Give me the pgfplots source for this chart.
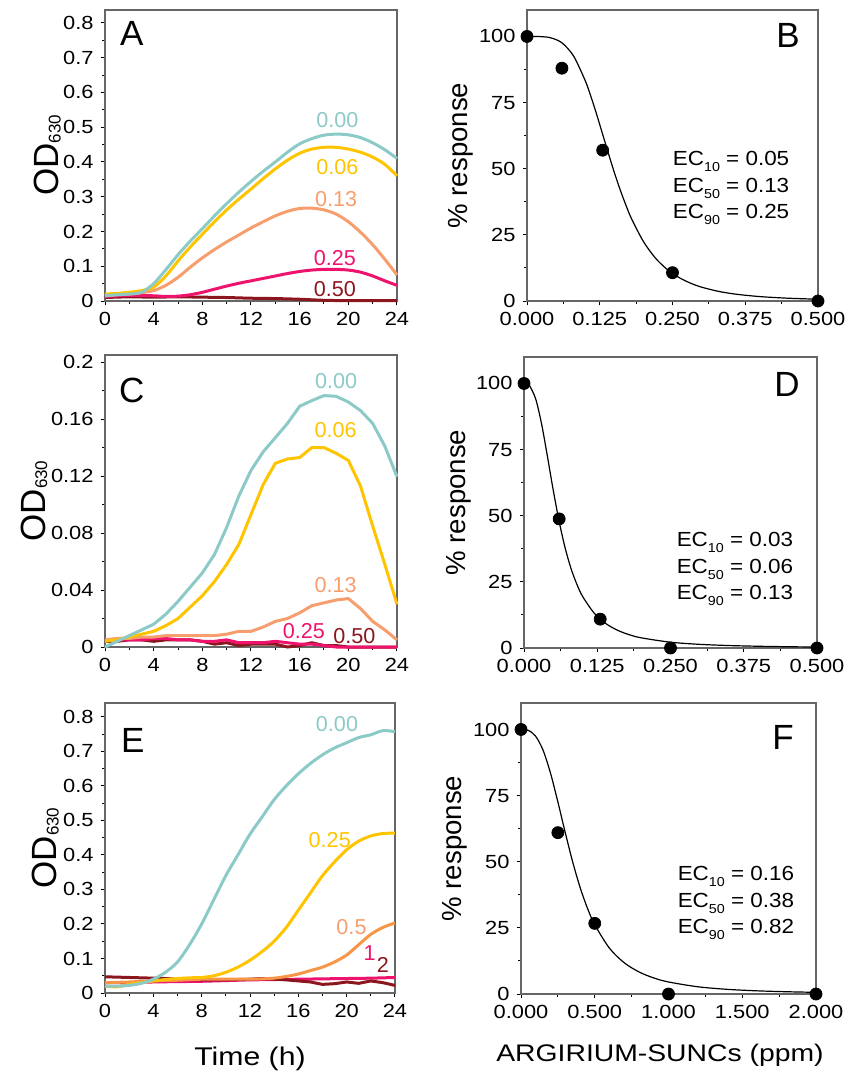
\documentclass[border=0pt]{standalone}
\usepackage{fontspec}
\usepackage{graphicx}
\setmainfont{Liberation Sans}
\newfontfamily\plainfont{Liberation Sans}
\usepackage{pgfplots}
\pgfplotsset{compat=1.18}
\definecolor{ccyan}{RGB}{140,202,200}
\definecolor{cyel}{RGB}{255,196,0}
\definecolor{corg}{RGB}{247,158,110}
\definecolor{corgE}{RGB}{247,150,70}
\definecolor{cpink}{RGB}{238,20,110}
\definecolor{cdred}{RGB}{140,22,30}
\newcommand{\sx}[1]{\scalebox{1.15}[1]{#1}}
\newcommand{\lbl}{\plainfont\fontsize{10.8}{11}\selectfont}
\newcommand{\panel}{\plainfont\fontsize{17.5}{18}\selectfont}
\newcommand{\ODlab}{\plainfont\fontsize{17.5}{18}\selectfont OD\raisebox{-1pt}{\fontsize{8.5}{9}\selectfont 630}}
\newcommand{\resp}{\plainfont\fontsize{13.8}{14}\selectfont \% response}
\newcommand{\ecs}[1]{\raisebox{-0.55ex}{\fontsize{6.5}{7}\selectfont #1}}
\newcommand{\ecblock}[3]{\scalebox{1.1}[1]{\begin{tabular}{@{}l@{}}EC\ecs{10} = #1\\EC\ecs{50} = #2\\EC\ecs{90} = #3\end{tabular}}}
\tikzset{ectext/.style={anchor=west, inner sep=0pt, font=\fontsize{10.2}{13.25}\selectfont}}
\pgfplotsset{
  myaxis/.style={
    scale only axis, clip=false,
    axis line style={draw=black!60, line width=0.6pt},
    tick align=outside, tick pos=left,
    major tick length=2.2pt, minor tick length=1.3pt,
    every tick/.style={black, line width=0.5pt},
    minor x tick num=1, minor y tick num=1,
    /pgf/number format/assume math mode=true,
    tick label style={font=\fontsize{9.5}{12}\selectfont, text=black},
  },
  timeaxis/.style={
    xmin=0, xmax=24, xtick={0,4,8,12,16,20,24},
    xticklabels={\sx{0},\sx{4},\sx{8},\sx{12},\sx{16},\sx{20},\sx{24}},
  },
  odaxis/.style={
    ytick={0,0.1,0.2,0.3,0.4,0.5,0.6,0.7,0.8},
    yticklabels={\sx{0},\sx{0.1},\sx{0.2},\sx{0.3},\sx{0.4},\sx{0.5},\sx{0.6},\sx{0.7},\sx{0.8}},
  },
  paxis/.style={
    ymin=0, ymax=110, ytick={0,25,50,75,100},
    yticklabels={\sx{0},\sx{25},\sx{50},\sx{75},\sx{100}},
  },
  odline/.style={line width=1.5pt, no marks},
  fitline/.style={black, line width=0.6pt, no marks, smooth},
  dots/.style={only marks, mark=*, mark size=3pt, black},
}
\begin{document}
\begin{tikzpicture}[x=1pt,y=1pt]
\path[use as bounding box] (0,0) rectangle (428,-540.5);

% ---------------- A ----------------
\begin{axis}[myaxis, timeaxis, odaxis, at={(52.5pt,-150.5pt)}, anchor=south west,
  width=146pt, height=145.5pt, ymin=0, ymax=0.837,
  ylabel={\ODlab}, ylabel style={at={(axis description cs:-0.197,0.5)}, anchor=center}]
\addplot[odline, cdred, smooth] coordinates {(0,0.010)(2,0.012)(4,0.011)(6,0.012)(8,0.011)(10,0.010)(12,0.008)(14,0.007)(16,0.005)(18,0.002)(20,0.001)(22,0.001)(24,0.001)};
\addplot[odline, cpink, smooth] coordinates {(0,0.012)(1,0.015)(2,0.016)(3,0.016)(4,0.015)(5,0.013)(6,0.014)(7,0.018)(8,0.025)(9,0.034)(10,0.043)(11,0.051)(12,0.058)(13,0.065)(14,0.072)(15,0.079)(16,0.085)(17,0.089)(18,0.091)(19,0.091)(20,0.089)(21,0.083)(22,0.072)(23,0.058)(24,0.045)};
\addplot[odline, corg, smooth] coordinates {(0,0.015)(1,0.018)(2,0.020)(3,0.024)(4,0.030)(5,0.045)(6,0.068)(7,0.097)(8,0.124)(9,0.148)(10,0.170)(11,0.190)(12,0.210)(13,0.228)(14,0.245)(15,0.258)(16,0.266)(17,0.267)(18,0.262)(19,0.250)(20,0.228)(21,0.198)(22,0.162)(23,0.120)(24,0.075)};
\addplot[odline, cyel, smooth] coordinates {(0,0.020)(1,0.022)(2,0.025)(3,0.030)(4,0.040)(5,0.072)(6,0.115)(7,0.155)(8,0.192)(9,0.228)(10,0.262)(11,0.293)(12,0.322)(13,0.352)(14,0.380)(15,0.405)(16,0.425)(17,0.437)(18,0.442)(19,0.442)(20,0.437)(21,0.428)(22,0.414)(23,0.393)(24,0.360)};
\addplot[odline, ccyan, smooth] coordinates {(0,0.015)(1,0.018)(2,0.020)(3,0.025)(4,0.050)(5,0.090)(6,0.133)(7,0.172)(8,0.208)(9,0.245)(10,0.280)(11,0.313)(12,0.344)(13,0.373)(14,0.400)(15,0.428)(16,0.452)(17,0.467)(18,0.477)(19,0.480)(20,0.478)(21,0.470)(22,0.455)(23,0.435)(24,0.410)};
\node[text=ccyan, font=\lbl] at (axis cs:19.1,0.520) {0.00};
\node[text=cyel, font=\lbl] at (axis cs:19.1,0.384) {0.06};
\node[text=corg, font=\lbl] at (axis cs:19.0,0.293) {0.13};
\node[text=cpink, font=\lbl] at (axis cs:18.9,0.123) {0.25};
\node[text=cdred, font=\lbl] at (axis cs:18.9,0.034) {0.50};
\node[font=\panel] at (rel axis cs:0.092,0.921) {A};
\end{axis}

% ---------------- B ----------------
\begin{axis}[myaxis, paxis, at={(263.5pt,-150.5pt)}, anchor=south west,
  width=145.5pt, height=145.5pt,
  xmin=0, xmax=0.5,
  xtick={0,0.125,0.25,0.375,0.5},
  xticklabels={\sx{0.000},\sx{0.125},\sx{0.250},\sx{0.375},\sx{0.500}},
  ylabel={\resp}, ylabel style={at={(axis description cs:-0.227,0.5)}, anchor=center}]
\addplot[fitline] coordinates {(0,100)(0.02,99.97)(0.04,99.53)(0.06,97.6)(0.08,92.6)(0.10,83.3)(0.11,77.2)(0.12,70.3)(0.13,63.0)(0.14,55.7)(0.15,48.6)(0.16,42.1)(0.17,36.2)(0.18,30.9)(0.20,22.5)(0.22,16.4)(0.24,12.1)(0.26,9.03)(0.28,6.83)(0.30,5.23)(0.33,3.60)(0.36,2.55)(0.40,1.67)(0.45,1.04)(0.50,0.68)};
\addplot[dots] coordinates {(0,100)(0.06,88)(0.13,57)(0.25,10.7)(0.5,0)};
\node[font=\panel] at (rel axis cs:0.897,0.914) {B};
\node[ectext] at (rel axis cs:0.50,0.392) {\ecblock{0.05}{0.13}{0.25}};
\end{axis}

% ---------------- C ----------------
\begin{axis}[myaxis, timeaxis, at={(52.5pt,-323.5pt)}, anchor=south west,
  width=146pt, height=146pt, ymin=0, ymax=0.205,
  ytick={0,0.04,0.08,0.12,0.16,0.2},
  yticklabels={\sx{0},\sx{0.04},\sx{0.08},\sx{0.12},\sx{0.16},\sx{0.2}},
  ylabel={\ODlab}, ylabel style={at={(axis description cs:-0.243,0.5)}, anchor=center}]
\addplot[odline, cdred] coordinates {(0,0.004)(1,0.004)(2,0.005)(3,0.005)(4,0.004)(5,0.005)(6,0.005)(7,0.005)(8,0.004)(9,0.002)(10,0.003)(11,0.001)(12,0.002)(13,0.002)(14,0.002)(15,0.000)(16,0.001)(17,0.003)(18,0.001)(19,0.001)(20,0.000)(21,0.000)(22,0.000)(23,0.000)(24,0.000)};
\addplot[odline, cpink] coordinates {(0,0.005)(1,0.005)(2,0.005)(3,0.005)(4,0.006)(5,0.006)(6,0.005)(7,0.005)(8,0.004)(9,0.004)(10,0.005)(11,0.003)(12,0.003)(13,0.003)(14,0.004)(15,0.003)(16,0.002)(17,0.002)(18,0.001)(19,0.000)(20,0.000)(21,0.000)(22,0.000)(23,0.000)(24,0.000)};
\addplot[odline, corg] coordinates {(0,0.005)(1,0.006)(2,0.006)(3,0.007)(4,0.007)(5,0.008)(6,0.008)(7,0.008)(8,0.008)(9,0.008)(10,0.009)(11,0.011)(12,0.011)(13,0.014)(14,0.018)(15,0.020)(16,0.024)(17,0.029)(18,0.031)(19,0.033)(20,0.034)(21,0.027)(22,0.018)(23,0.012)(24,0.005)};
\addplot[odline, cyel] coordinates {(0,0.004)(1,0.005)(2,0.007)(3,0.009)(4,0.011)(5,0.015)(6,0.020)(7,0.028)(8,0.036)(9,0.046)(10,0.058)(11,0.072)(12,0.093)(13,0.114)(14,0.129)(15,0.132)(16,0.133)(17,0.140)(18,0.140)(19,0.136)(20,0.131)(21,0.113)(22,0.085)(23,0.058)(24,0.030)};
\addplot[odline, ccyan] coordinates {(0,0.000)(1,0.004)(2,0.008)(3,0.012)(4,0.016)(5,0.023)(6,0.032)(7,0.042)(8,0.052)(9,0.065)(10,0.084)(11,0.106)(12,0.124)(13,0.137)(14,0.147)(15,0.157)(16,0.169)(17,0.173)(18,0.1765)(19,0.176)(20,0.172)(21,0.166)(22,0.157)(23,0.141)(24,0.1195)};
\node[text=ccyan, font=\lbl] at (axis cs:19.0,0.1865) {0.00};
\node[text=cyel, font=\lbl] at (axis cs:18.96,0.152) {0.06};
\node[text=corg, font=\lbl] at (axis cs:18.96,0.0436) {0.13};
\node[text=cpink, font=\lbl] at (axis cs:16.35,0.0114) {0.25};
\node[text=cdred, font=\lbl] at (axis cs:20.5,0.0079) {0.50};
\node[font=\panel] at (rel axis cs:0.092,0.88) {C};
\end{axis}

% ---------------- D ----------------
\begin{axis}[myaxis, paxis, at={(262pt,-324pt)}, anchor=south west,
  width=146.5pt, height=145.5pt,
  xmin=0, xmax=0.5,
  xtick={0,0.125,0.25,0.375,0.5},
  xticklabels={\sx{0.000},\sx{0.125},\sx{0.250},\sx{0.375},\sx{0.500}},
  ylabel={\resp}, ylabel style={at={(axis description cs:-0.222,0.5)}, anchor=center}]
\addplot[fitline] coordinates {(0,100)(0.005,99.83)(0.01,98.97)(0.02,94.1)(0.03,84.7)(0.04,72.4)(0.05,59.5)(0.06,47.8)(0.07,38.0)(0.08,30.2)(0.09,24.2)(0.10,19.5)(0.12,13.1)(0.14,9.19)(0.16,6.67)(0.18,5.0)(0.20,3.85)(0.25,2.19)(0.30,1.38)(0.35,0.93)(0.40,0.66)(0.45,0.48)(0.50,0.37)};
\addplot[dots] coordinates {(0,100)(0.06,48.8)(0.13,10.9)(0.25,0)(0.5,0)};
\node[font=\panel] at (rel axis cs:0.898,0.904) {D};
\node[ectext] at (rel axis cs:0.52,0.275) {\ecblock{0.03}{0.06}{0.13}};
\end{axis}

% ---------------- E ----------------
\begin{axis}[myaxis, timeaxis, odaxis, at={(52.5pt,-496.5pt)}, anchor=south west,
  width=145pt, height=145pt, ymin=0, ymax=0.84,
  ylabel={\ODlab}, ylabel style={at={(axis description cs:-0.205,0.5)}, anchor=center},
  xlabel={\scalebox{1.18}[1]{Time (h)}}, xlabel style={at={(axis description cs:0.5,-0.226)}, anchor=center, font=\fontsize{12.8}{14}\selectfont}]
\addplot[odline, cpink, smooth] coordinates {(0,0.030)(2,0.030)(4,0.032)(6,0.033)(8,0.034)(10,0.036)(12,0.038)(14,0.039)(16,0.040)(18,0.041)(20,0.042)(22,0.043)(24,0.045)};
\addplot[odline, cdred] coordinates {(0,0.047)(1,0.046)(2,0.045)(3,0.044)(4,0.043)(5,0.042)(6,0.040)(7,0.039)(8,0.038)(9,0.038)(10,0.038)(11,0.039)(12,0.040)(13,0.042)(14,0.040)(15,0.038)(16,0.035)(17,0.032)(18,0.025)(19,0.027)(20,0.032)(21,0.028)(22,0.035)(23,0.030)(24,0.022)};
\addplot[odline, corgE, smooth] coordinates {(0,0.030)(2,0.032)(4,0.035)(6,0.037)(8,0.040)(10,0.040)(12,0.040)(13,0.041)(14,0.043)(15,0.048)(16,0.055)(17,0.065)(18,0.075)(19,0.090)(20,0.110)(21,0.140)(22,0.170)(23,0.190)(24,0.203)};
\addplot[odline, cyel, smooth] coordinates {(0,0.020)(1,0.018)(2,0.025)(3,0.030)(4,0.035)(5,0.039)(6,0.042)(7,0.044)(8,0.045)(9,0.050)(10,0.060)(11,0.075)(12,0.095)(13,0.120)(14,0.150)(15,0.190)(16,0.240)(17,0.290)(18,0.340)(19,0.380)(20,0.415)(21,0.440)(22,0.455)(23,0.462)(24,0.463)};
\addplot[odline, ccyan, smooth] coordinates {(0,0.020)(1,0.020)(2,0.022)(3,0.028)(4,0.040)(5,0.060)(6,0.090)(7,0.140)(8,0.200)(9,0.270)(10,0.340)(11,0.400)(12,0.460)(13,0.510)(14,0.560)(15,0.600)(16,0.635)(17,0.665)(18,0.690)(19,0.710)(20,0.725)(21,0.740)(22,0.748)(23,0.760)(24,0.757)};
\node[text=ccyan, font=\lbl] at (axis cs:19.2,0.779) {0.00};
\node[text=cyel, font=\lbl] at (axis cs:18.6,0.442) {0.25};
\node[text=corg, font=\lbl] at (axis cs:20.4,0.192) {0.5};
\node[text=cpink, font=\lbl] at (axis cs:21.9,0.115) {1};
\node[text=cdred, font=\lbl] at (axis cs:23.0,0.082) {2};
\node[font=\panel] at (rel axis cs:0.096,0.872) {E};
\end{axis}

% ---------------- F ----------------
\begin{axis}[myaxis, paxis, at={(260.5pt,-497pt)}, anchor=south west,
  width=147.5pt, height=145.5pt,
  xmin=0, xmax=2,
  xtick={0,0.5,1,1.5,2},
  xticklabels={\sx{0.000},\sx{0.500},\sx{1.000},\sx{1.500},\sx{2.000}},
  ylabel={\resp}, ylabel style={at={(axis description cs:-0.224,0.5)}, anchor=center},
  xlabel={\scalebox{1.18}[1]{ARGIRIUM-SUNCs (ppm)}}, xlabel style={at={(axis description cs:0.471,-0.21)}, anchor=center, font=\fontsize{12}{13}\selectfont}]
\addplot[fitline] coordinates {(0,100)(0.05,99.65)(0.10,97.4)(0.15,92.1)(0.20,83.5)(0.25,72.6)(0.30,61.0)(0.35,50.0)(0.40,40.4)(0.45,32.5)(0.50,26.2)(0.60,17.3)(0.70,11.8)(0.80,8.34)(0.90,6.07)(1.0,4.55)(1.2,2.73)(1.4,1.76)(1.6,1.20)(1.8,0.86)(2.0,0.63)};
\addplot[dots] coordinates {(0,100)(0.25,61)(0.5,26.7)(1,0)(2,0)};
\node[font=\panel] at (rel axis cs:0.888,0.883) {F};
\node[ectext] at (rel axis cs:0.53,0.316) {\ecblock{0.16}{0.38}{0.82}};
\end{axis}
\end{tikzpicture}
\end{document}
